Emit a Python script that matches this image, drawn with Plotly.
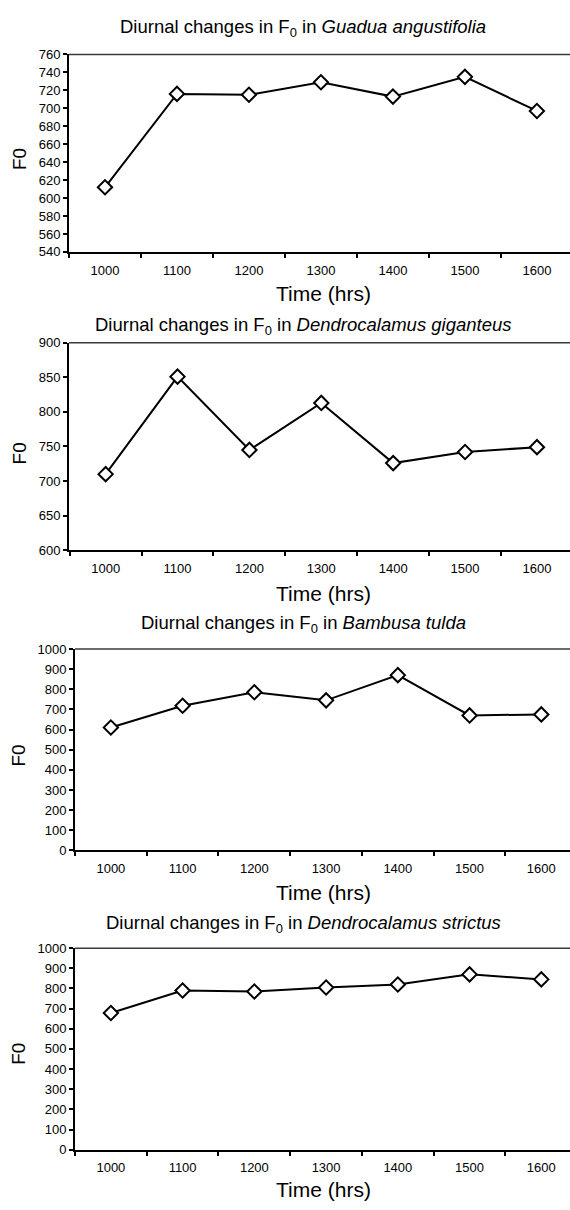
import plotly.graph_objects as go

W, H = 570, 1210

times = ["1000", "1100", "1200", "1300", "1400", "1500", "1600"]

guadua_angustifolia = [612, 716, 715, 729, 713, 735, 697]
dendrocalamus_giganteus = [710, 851, 745, 813, 726, 742, 749]
bambusa_tulda = [610, 718, 785, 745, 870, 670, 675]
dendrocalamus_strictus = [678, 790, 785, 805, 820, 870, 845]

species_names = ["Guadua angustifolia", "Dendrocalamus giganteus",
                 "Bambusa tulda", "Dendrocalamus strictus"]
series = [guadua_angustifolia, dendrocalamus_giganteus, bambusa_tulda, dendrocalamus_strictus]
y_ranges = [[540, 760], [600, 900], [0, 1000], [0, 1000]]
y_dticks = [20, 50, 100, 100]

# layout in pixels
plot_px = [  # (left, top, bottom)
    (69, 48, 248),
    (69, 340, 550),
    (75, 650, 854),
    (75, 953, 1157),
]
x_ranges = [[-0.5, 6.46], [-0.51, 6.46], [-0.5, 6.4], [-0.5, 6.4]]
title_y = [21, 323, 625, 929]
xtitle_y = [290, 594, 897, 1197]
ytitle_y = [154, 452, 758, 1060]

FONT = "Liberation Sans, Arial, sans-serif"

fig = go.Figure()
annotations = []
shapes = []
for i in range(4):
    left, top, bottom = plot_px[i]
    xa = "x" if i == 0 else f"x{i+1}"
    ya = "y" if i == 0 else f"y{i+1}"
    fig.add_trace(go.Scatter(
        x=times, y=series[i], mode="lines+markers",
        xaxis=xa, yaxis=ya, showlegend=False,
        line=dict(color="black", width=2),
        marker=dict(symbol="diamond", size=11, color="white",
                    line=dict(color="black", width=2)),
    ))
    xkey = "xaxis" if i == 0 else f"xaxis{i+1}"
    ykey = "yaxis" if i == 0 else f"yaxis{i+1}"
    fig.update_layout(**{
        xkey: dict(
            domain=[left / W, 1.0], anchor=ya, type="category",
            range=x_ranges[i], tickson="boundaries",
            showline=True, linecolor="black", linewidth=2,
            ticks="outside", ticklen=4, tickwidth=1.5, tickcolor="black",
            showgrid=False, zeroline=False, ticklabelstandoff=5,
            tickfont=dict(family=FONT, size=13, color="black"),
        ),
        ykey: dict(
            domain=[1 - bottom / H, 1 - top / H], anchor=xa,
            range=y_ranges[i], dtick=y_dticks[i], tick0=0,
            showline=True, linecolor="black", linewidth=2,
            ticks="outside", ticklen=4, tickwidth=1.5, tickcolor="black",
            showgrid=False, zeroline=False,
            tickfont=dict(family=FONT, size=13, color="black"),
        ),
    })
    # top border of plot area
    shapes.append(dict(type="line", xref=f"{xa} domain", yref=f"{ya} domain",
                       x0=0, x1=1, y0=1, y1=1,
                       line=dict(color="#3a3a3a", width=1.5)))
    annotations.append(dict(
        text=f"Diurnal changes in F<sub>0</sub> in <i>{species_names[i]}</i>",
        xref="paper", yref="paper", x=303 / W, y=1 - title_y[i] / H,
        xanchor="center", yanchor="middle", showarrow=False,
        font=dict(family=FONT, size=18.5, color="black"),
    ))
    annotations.append(dict(
        text="Time (hrs)", xref="paper", yref="paper",
        x=323 / W, y=1 - xtitle_y[i] / H, xanchor="center", yanchor="middle",
        showarrow=False, font=dict(family=FONT, size=21, color="black"),
    ))
    annotations.append(dict(
        text="F0", xref="paper", yref="paper", textangle=-90,
        x=19 / W, y=1 - ytitle_y[i] / H, xanchor="center", yanchor="middle",
        showarrow=False, font=dict(family=FONT, size=19, color="black"),
    ))

fig.update_layout(
    width=W, height=H,
    margin=dict(l=0, r=0, t=0, b=0),
    paper_bgcolor="white", plot_bgcolor="white",
    annotations=annotations, shapes=shapes,
)

fig.write_html("out.html", config={"displayModeBar": False},
               post_script="document.body.style.margin='0';")
